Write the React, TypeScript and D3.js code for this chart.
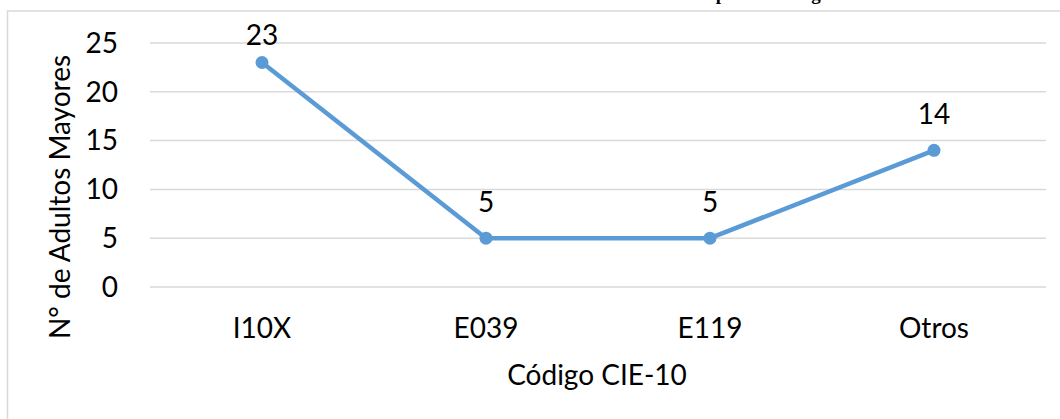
import React from "react";
import * as d3 from "d3";

const categories: string[] = ["I10X", "E039", "E119", "Otros"];
const values: number[] = [23, 5, 5, 14];
const yTicks: number[] = [0, 5, 10, 15, 20, 25];

const chartTitle = "Enfermedades crónicas más frecuentes en los pacientes según";
const xTitle = "Código CIE-10";
const yTitle = "N° de Adultos Mayores";

const W = 1060;
const H = 419;
const plot = { left: 150, right: 1046, top: 43, bottom: 287 };
const font = "Lato, 'Open Sans', sans-serif";
const fs = 28;

export default function App() {
  const x = d3
    .scaleBand<string>()
    .domain(categories)
    .range([plot.left, plot.right]);
  const y = d3.scaleLinear().domain([0, 25]).range([plot.bottom, plot.top]);

  const pts = categories.map((c, i) => ({
    c,
    v: values[i],
    px: (x(c) ?? 0) + x.bandwidth() / 2,
    py: y(values[i]),
  }));

  const line = d3
    .line<{ px: number; py: number }>()
    .x((d) => d.px)
    .y((d) => d.py);

  return (
    <div style={{ position: "absolute", left: 0, top: 0 }}>
      <svg width={W} height={H} style={{ display: "block", background: "#fff" }}>
        {/* chart title sitting above the frame */}
        <text
          x={842}
          y={-0.5}
          textAnchor="end"
          fontFamily="'Liberation Serif', 'Times New Roman', serif"
          fontWeight="bold"
          fontSize={19}
          fill="#000"
        >
          {chartTitle}
        </text>

        {/* chart frame */}
        <rect
          x={7.5}
          y={11}
          width={W + 20}
          height={H + 20}
          fill="none"
          stroke="#d9d9d9"
          strokeWidth={1.5}
        />

        {/* gridlines */}
        {yTicks.map((t) => (
          <line
            key={t}
            x1={plot.left}
            x2={plot.right}
            y1={y(t)}
            y2={y(t)}
            stroke="#d9d9d9"
            strokeWidth={1.5}
          />
        ))}

        {/* y tick labels */}
        {yTicks.map((t) => (
          <text
            key={t}
            x={118}
            y={y(t)}
            dy="0.35em"
            textAnchor="end"
            fontFamily={font}
            fontSize={fs}
            fill="#000"
          >
            {t}
          </text>
        ))}

        {/* category labels */}
        {categories.map((c) => (
          <text
            key={c}
            x={(x(c) ?? 0) + x.bandwidth() / 2}
            y={338}
            textAnchor="middle"
            fontFamily={font}
            fontSize={fs}
            fill="#000"
          >
            {c}
          </text>
        ))}

        {/* axis titles */}
        <text
          x={597}
          y={385}
          textAnchor="middle"
          fontFamily={font}
          fontSize={fs}
          fill="#000"
        >
          {xTitle}
        </text>
        <text
          transform={`translate(70, 197) rotate(-90)`}
          textAnchor="middle"
          fontFamily={font}
          fontSize={fs}
          fill="#000"
        >
          {yTitle}
        </text>

        {/* series line */}
        <path
          d={line(pts) ?? ""}
          fill="none"
          stroke="#5b9bd5"
          strokeWidth={4.5}
          strokeLinejoin="round"
        />
        {pts.map((p) => (
          <circle key={p.c} cx={p.px} cy={p.py} r={6.5} fill="#5b9bd5" />
        ))}

        {/* value labels */}
        {pts.map((p) => (
          <text
            key={p.c}
            x={p.px}
            y={Math.max(p.py - 26, 45)}
            textAnchor="middle"
            fontFamily={font}
            fontSize={fs}
            fill="#000"
          >
            {p.v}
          </text>
        ))}
      </svg>
    </div>
  );
}
